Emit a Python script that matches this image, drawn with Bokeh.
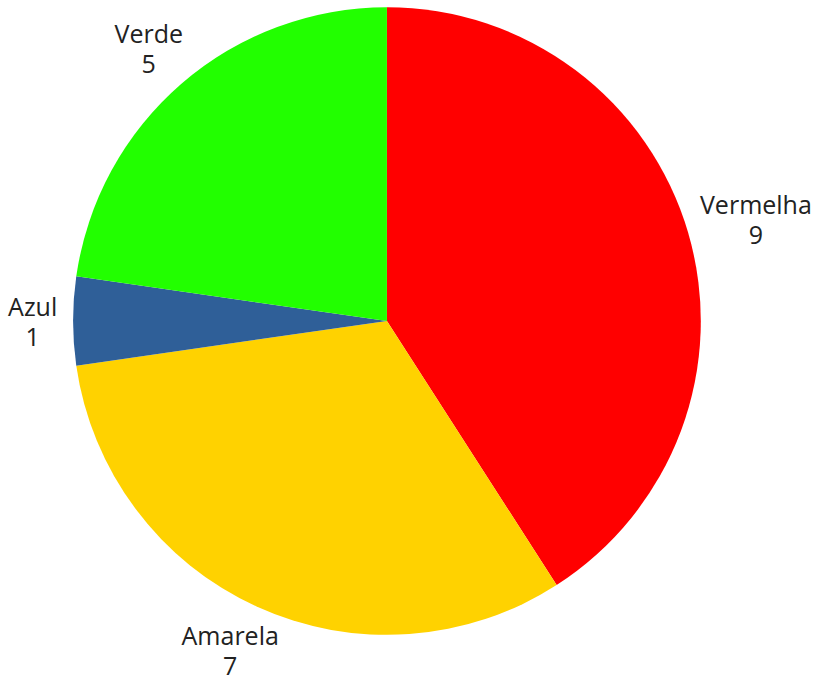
import math
from bokeh.plotting import figure
from bokeh.models import ColumnDataSource, Range1d
from bokeh.core.properties import value
from bokeh.embed import file_html
from bokeh.resources import INLINE

categories = ["Vermelha", "Amarela", "Azul", "Verde"]
counts = [9, 7, 1, 5]
colors = ["#FF0000", "#FFD200", "#2F5F98", "#22FF00"]

# Page is drawn in a 834x700 reference coordinate system (y up)
REF_W, REF_H = 834, 700
W, H = 818, 684
p = figure(width=W, height=H, output_backend="svg", toolbar_location=None,
           x_range=Range1d(0, REF_W), y_range=Range1d(0, REF_H), min_border=0)
p.axis.visible = False
p.grid.visible = False
p.outline_line_color = None
p.background_fill_color = "white"
p.border_fill_color = "white"

cx, cy, r = 394, 372, 320
total = sum(counts)
starts, ends, mids = [], [], []
cum = 0.0
for c in counts:
    a0 = math.pi / 2 - 2 * math.pi * cum / total
    cum += c
    a1 = math.pi / 2 - 2 * math.pi * cum / total
    starts.append(a0)
    ends.append(a1)
    mids.append((a0 + a1) / 2)

src = ColumnDataSource(dict(start=starts, end=ends, color=colors))
p.wedge(x=cx, y=cy, radius=r, start_angle="start", end_angle="end",
        direction="clock", fill_color="color", line_color=None, source=src)

# approximate Open Sans advance widths (em) for label width estimation
adv = {"V": 0.592, "e": 0.561, "r": 0.408, "m": 0.852, "l": 0.253, "h": 0.614,
       "a": 0.556, "A": 0.633, "z": 0.476, "u": 0.614, "d": 0.614}
fs_ref = 25.5
scale = W / REF_W
gap = 336
half_h = 34
lx, ly, lt = [], [], []
for name, c, m in zip(categories, counts, mids):
    w = sum(adv.get(ch, 0.56) for ch in name) * fs_ref
    lx.append(cx + (gap + w / 2) * math.cos(m))
    ly.append(cy + (gap + half_h) * math.sin(m))
    lt.append(f"{name}\n{c}")

p.text(x=lx, y=ly, text=lt, text_align="center", text_baseline="middle",
       text_font=value("Open Sans"), text_font_size=f"{fs_ref * scale:.1f}px",
       text_color="#222222", text_line_height=0.87)

open("out.html", "w").write(file_html(p, INLINE))
